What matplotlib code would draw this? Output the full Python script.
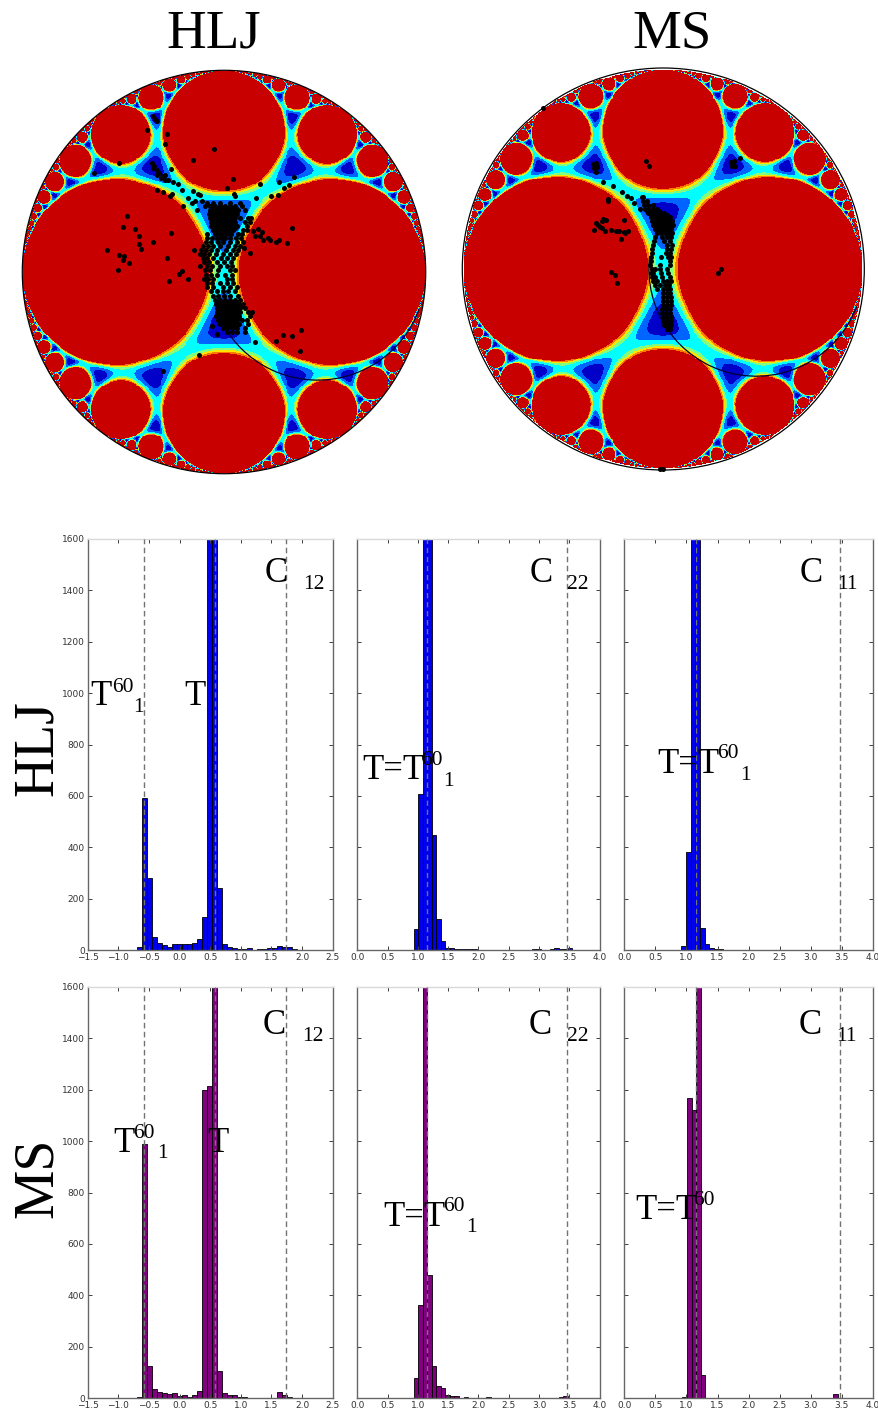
import numpy as np
import matplotlib
import matplotlib.pyplot as plt
from matplotlib.colors import BoundaryNorm, ListedColormap
from matplotlib.patches import Arc, Circle

matplotlib.use('Agg')

W, H = 879, 1416
SERIF = 'Liberation Serif'

# Histogram heights, bars above 1600 run off the panel
hlj_c12 = [10, 590, 282, 50, 28, 18, 12, 22, 22, 25, 25, 28, 43, 130, 1900, 1900, 243, 22, 10, 6,
           3, 3, 6, 1, 3, 5, 6, 8, 15, 12, 10, 3]
hlj_c22 = [83, 606, 1900, 1900, 449, 122, 34, 8, 6, 5, 3, 5, 2, 2, 1, 0, 0, 0, 0, 0, 0, 0, 0, 0, 0, 0,
           2, 2, 1, 0, 3, 6, 4, 3, 9]
hlj_c11 = [15, 383, 1900, 1900, 85, 22, 8, 2, 2, 0, 0, 0, 1, 0, 0, 0, 0, 0, 0, 0, 0, 1, 0, 1, 0, 0, 0,
           0, 0, 0, 1, 0, 0, 0, 1]
ms_c12 = [5, 987, 124, 35, 25, 18, 15, 18, 6, 12, 3, 10, 27, 1199, 1213, 1900, 106, 18, 10, 10, 3, 3,
          0, 0, 0, 0, 0, 0, 23, 12, 5]
ms_c22 = [79, 363, 1900, 478, 126, 48, 40, 13, 8, 8, 0, 2, 0, 0, 0, 0, 2, 0, 0, 0, 0, 0, 0, 0, 0, 0,
          0, 0, 0, 0, 1, 0, 2, 9]
ms_c11 = [2, 1169, 1120, 1900, 91, 0, 0, 0, 0, 0, 0, 0, 0, 0, 0, 0, 0, 0, 0, 0, 0, 0, 0, 0, 0, 0, 0,
          0, 0, 0, 0, 0, 0, 17]

# Dashed reference values
lines_c12 = [-0.58, 0.58, 1.73]
lines_c22 = [1.155, 3.465]

x_ticks_c12 = [-1.5, -1.0, -0.5, 0.0, 0.5, 1.0, 1.5, 2.0, 2.5]
x_ticks_c = [0.0, 0.5, 1.0, 1.5, 2.0, 2.5, 3.0, 3.5, 4.0]
y_ticks = [0, 200, 400, 600, 800, 1000, 1200, 1400, 1600]

# Contour band edges, read as positions along the vertical diameter of the disk
band_edges = [0.332, 0.358, 0.376, 0.386, 0.394, 0.402]
band_colors = ['#0000c8', '#0064ff', '#00ffff', '#80ff80', '#ffe600', '#ff7800', '#c80000']

# Scatter points (3x crop pixels)
hlj_sparse = [(442, 210), (501, 222), (494, 253), (641, 269), (578, 302), (357, 309), (282, 340), (700, 358),
              (681, 385), (781, 374), (837, 366), (881, 351), (866, 375), (851, 386), (833, 405), (814, 409),
              (767, 416), (702, 402), (704, 410), (382, 468), (368, 503), (405, 509), (417, 528), (513, 519),
              (459, 547), (416, 553), (424, 568), (322, 572), (357, 587), (373, 590), (369, 600), (388, 611),
              (501, 596), (353, 630), (545, 634), (537, 643), (564, 657), (506, 663), (877, 505), (860, 551),
              (836, 541), (828, 546), (790, 541), (780, 530), (765, 530), (758, 513), (773, 507), (785, 518),
              (805, 535), (810, 540), (751, 581), (733, 565), (755, 757), (902, 810), (875, 828), (849, 827),
              (828, 843), (766, 848), (900, 875), (597, 887), (488, 934), (652, 822), (637, 799), (455, 310),
              (462, 320), (470, 330), (478, 340), (488, 350), (460, 325), (472, 345), (483, 355), (495, 360),
              (513, 328), (495, 345), (505, 362), (520, 368), (535, 372), (545, 392), (472, 390), (490, 398),
              (510, 408), (516, 404), (548, 438), (565, 415), (578, 395), (595, 402), (585, 425), (600, 405),
              (575, 430), (590, 450), (605, 425), (465, 178), (460, 170), (470, 185)]
hlj_rows = [(430, 620, 640, 660, 690, 720), (440, 615, 630, 645, 660, 675, 690, 705, 725),
            (446, 636, 648, 660, 672, 684, 696, 708),
            (452, 630, 642, 654, 666, 678, 690, 702, 715, 735), (458, 636, 648, 660, 672, 684, 696, 708),
            (464, 628, 640, 652, 664, 676, 688, 700, 712), (470, 634, 646, 658, 670, 682, 694, 706),
            (476, 630, 642, 654, 666, 678, 690, 702, 720, 745, 752), (482, 638, 650, 662, 674, 686, 698),
            (488, 632, 644, 656, 668, 680, 692, 704, 735, 750), (494, 640, 652, 664, 676, 688, 700),
            (500, 634, 646, 658, 670, 682, 694, 712, 740), (506, 646, 658, 670, 682, 694, 706),
            (512, 640, 652, 664, 676, 688, 700, 730, 740), (518, 651, 663, 675, 687),
            (524, 622, 645, 657, 669, 681, 693, 715, 725), (536, 620, 635, 650, 662, 674, 690, 708, 722),
            (548, 618, 632, 655, 670, 690, 712, 730), (560, 610, 625, 640, 660, 685, 705, 720),
            (572, 583, 602, 618, 632, 652, 678, 700, 715), (584, 600, 612, 628, 648, 668, 690, 708),
            (596, 608, 620, 640, 662, 682, 700), (608, 612, 628, 650, 672, 692), (620, 600, 620, 635, 660, 680, 695),
            (632, 615, 630, 655, 690, 705), (645, 618, 632, 650, 675, 695), (658, 612, 625, 640, 680, 695),
            (670, 620, 635, 660, 680, 700), (682, 622, 640, 670, 690, 712), (695, 632, 650, 668, 685, 705),
            (708, 640, 655, 672, 690, 715), (720, 645, 660, 675, 690, 705, 720),
            (726, 653, 667, 681, 695, 709), (732, 648, 662, 676, 690, 704, 718, 730),
            (738, 655, 669, 683, 697, 711, 725), (744, 650, 664, 678, 692, 706, 720, 735),
            (750, 657, 671, 685, 699, 713), (756, 650, 664, 678, 692, 706, 720, 745),
            (762, 655, 669, 683, 697, 711), (768, 648, 662, 676, 690, 704, 718, 750),
            (774, 662, 676, 690, 704, 718), (780, 655, 669, 683, 697, 711, 725, 740),
            (786, 667, 681, 695, 709), (792, 660, 674, 688, 702, 716, 745),
            (798, 675, 689, 703), (804, 668, 682, 696, 710, 735), (816, 680, 695, 710, 735)]
ms_sparse = [(308, 145), (619, 303), (626, 319), (900, 295), (872, 305), (880, 310), (885, 318), (875, 318), (882, 303),
             (460, 312), (468, 310), (470, 322), (462, 325), (468, 335), (472, 318), (489, 367), (520, 378), (547, 397),
             (560, 408), (572, 415), (582, 428), (505, 418), (503, 422), (553, 479), (490, 477), (498, 480), (487, 483),
             (468, 488), (473, 494), (480, 500), (487, 505), (495, 512), (462, 509), (513, 509), (527, 512), (537, 512),
             (553, 515), (565, 512), (555, 520), (542, 538), (513, 637), (525, 645), (531, 668), (835, 638), (843, 628),
             (660, 1227), (670, 1227)]
ms_rows = [(412, 605, 610), (424, 610, 622), (436, 612, 625, 638), (448, 600, 615, 628, 640, 652),
           (454, 620, 633, 646, 658), (460, 625, 638, 650, 662, 672), (466, 632, 645, 657, 669, 681),
           (472, 632, 645, 657, 669, 681, 690), (478, 640, 652, 664, 676, 688), (484, 635, 647, 659, 671, 683, 695),
           (490, 641, 653, 665, 677, 689), (496, 640, 652, 664, 676, 688, 698), (502, 646, 658, 670, 682, 694),
           (508, 645, 657, 669, 681, 693), (514, 652, 664, 676, 688), (520, 650, 662, 674, 686, 696),
           (532, 645, 665, 680, 692), (544, 642, 672, 690), (556, 638, 682, 695), (568, 635, 680, 692),
           (580, 635, 678, 690), (592, 632, 662, 684, 692), (604, 632, 690), (616, 630, 660, 690),
           (628, 635, 645, 660, 680), (640, 632, 640, 662, 685), (652, 635, 645, 665, 690),
           (664, 640, 650, 668, 680, 692), (676, 645, 660, 675, 688), (688, 650, 668, 680, 690), (700, 668, 680, 690),
           (712, 670, 682, 692), (724, 668, 680, 692), (736, 668, 680, 692), (748, 665, 677, 689), (760, 665, 677, 689),
           (772, 668, 680, 692), (784, 670, 682, 694), (796, 672, 684, 692), (806, 680, 690)]


def px_axes(fig, left, top, right, bottom):
    return fig.add_axes([left / W, 1 - bottom / H, (right - left) / W, (bottom - top) / H])


def label(fig, x, y, s, size, **kw):
    fig.text(x / W, 1 - y / H, s, family=SERIF, size=size, va='baseline', color='black', **kw)


# Modular height of a point in the disk, the sum over the cusps nearest to it
def field(z):
    tau = 1j * (1 + z) / (1 - z)
    for _ in range(60):
        tau = tau - np.round(tau.real)
        small = np.abs(tau) < 1
        tau = np.where(small, -1 / tau, tau)
    total = np.zeros_like(tau.real)
    for c in range(4):
        for d in range(-4, 5):
            if np.gcd(c, d) == 1 and (c > 0 or d == 1):
                total += (tau.imag / np.abs(c * tau + d) ** 2) ** 6
    return np.minimum(total, 50)


def draw_disk(fig, cx, cy, radius, rim, sparse, rows, crop_c, crop_r, arc_start):
    span = 1.04
    ax = px_axes(fig, cx - radius * span, cy - radius * span, cx + radius * span, cy + radius * span)
    ax.axis('off')

    g = np.linspace(-1, 1, 420)
    xx, yy = np.meshgrid(g, g)
    z = xx + 1j * yy
    inside = np.abs(z) < 1
    values = np.where(inside, field(np.where(inside, z, 0)), np.nan)
    levels = [0] + [float(field(np.array([1j * v]))[0]) for v in band_edges] + [51]
    ax.imshow(values, extent=(-1, 1, -1, 1), origin='lower', interpolation='nearest',
              cmap=ListedColormap(band_colors), norm=BoundaryNorm(levels, len(band_colors)))

    ax.add_patch(Circle((0, 0), rim, fill=False, ec='black', lw=0.9))
    ax.add_patch(Arc((0.464, 0), 1.072, 1.072, theta1=arc_start, theta2=340, color='#000030', lw=0.9, zorder=3))

    px = [p[0] for p in sparse]
    py = [p[1] for p in sparse]
    for row in rows:
        px += list(row[1:])
        py += [row[0]] * (len(row) - 1)
    ax.scatter((np.array(px) - crop_c[0]) / crop_r, (crop_c[1] - np.array(py)) / crop_r,
               s=13, c='black', linewidths=0, zorder=4)
    ax.set_xlim(-span, span)
    ax.set_ylim(-span, span)


def draw_hist(fig, box, values, x0, width, color, x_min, x_max, x_ticks, lines, show_y):
    ax = px_axes(fig, *box)
    lefts = x0 + np.arange(len(values)) * width
    ax.bar(lefts, values, width=width, align='edge', color=color, edgecolor='black', linewidth=0.6)
    for x in lines:
        ax.axvline(x, color='0.45', ls='--', lw=1.0, dashes=(4, 2.5), zorder=5)
    ax.set_xlim(x_min, x_max)
    ax.set_ylim(0, 1600)
    ax.set_xticks(x_ticks)
    ax.set_yticks(y_ticks)
    ax.tick_params(direction='in', top=True, right=True, length=3, width=0.7, labelsize=6.5,
                   pad=2, color='0.25', labelcolor='0.2', labelleft=show_y)
    for name, spine in ax.spines.items():
        spine.set_color('0.85' if name == 'top' else '0.4')
        spine.set_linewidth(1.0)
    return ax


if __name__ == '__main__':
    fig = plt.figure(figsize=(W / 100, H / 100), dpi=100)

    draw_disk(fig, 224, 272, 201.7, 1.0, hlj_sparse, hlj_rows, (672, 637), 605, 210)
    draw_disk(fig, 663.3, 269, 200.0, 1.005, ms_sparse, ms_rows, (670, 627), 600, 173)

    draw_hist(fig, (87.7, 539, 332.7, 950), hlj_c12, -0.689, 0.0815, '#0000f0', -1.5, 2.5, x_ticks_c12, lines_c12, True)
    draw_hist(fig, (357.3, 539, 599.7, 950), hlj_c22, 0.93, 0.0748, '#0000f0', 0, 4, x_ticks_c, lines_c22, False)
    draw_hist(fig, (624.3, 539, 873, 950), hlj_c11, 0.918, 0.0745, '#0000f0', 0, 4, x_ticks_c, lines_c22, False)
    draw_hist(fig, (87.7, 987, 332.7, 1398), ms_c12, -0.689, 0.0815, '#800080', -1.5, 2.5, x_ticks_c12, lines_c12, True)
    draw_hist(fig, (357.3, 987, 599.7, 1398), ms_c22, 0.93, 0.0748, '#800080', 0, 4, x_ticks_c, lines_c22, False)
    draw_hist(fig, (624.3, 987, 873, 1398), ms_c11, 0.934, 0.0735, '#800080', 0, 4, x_ticks_c, lines_c22, False)

    # Titles and row names
    label(fig, 166, 47, 'HLJ', 39.5)
    label(fig, 632, 47, 'MS', 39.5)
    label(fig, 52, 796, 'HLJ', 40, rotation=90, rotation_mode='anchor')
    label(fig, 52, 1218, 'MS', 40, rotation=90, rotation_mode='anchor')

    # Annotations in the panels
    big, small = 25, 15.5
    for x, y, s, size in [
        (265, 582, 'C', big), (303, 589, '12', small),
        (90, 705, 'T', big), (112, 692, '60', small), (133, 712, '1', small), (184, 705, 'T', big),
        (530, 582, 'C', big), (567, 589, '22', small),
        (362, 779, 'T=T', big), (421, 765, '60', small), (443, 786, '1', small),
        (800, 582, 'C', big), (837, 589, '11', small),
        (657, 773, 'T=T', big), (717, 758, '60', small), (740, 780, '1', small),
        (263, 1034, 'C', big), (302, 1041, '12', small),
        (113, 1152, 'T', big), (133, 1138, '60', small), (157, 1158, '1', small), (207, 1152, 'T', big),
        (529, 1034, 'C', big), (567, 1041, '22', small),
        (383, 1226, 'T=T', big), (443, 1211, '60', small), (466, 1232, '1', small),
        (799, 1034, 'C', big), (836, 1041, '11', small),
        (635, 1219, 'T=T', big), (693, 1205, '60', small),
    ]:
        label(fig, x, y, s, size, zorder=10)

    fig.savefig('out.png', dpi=100)
